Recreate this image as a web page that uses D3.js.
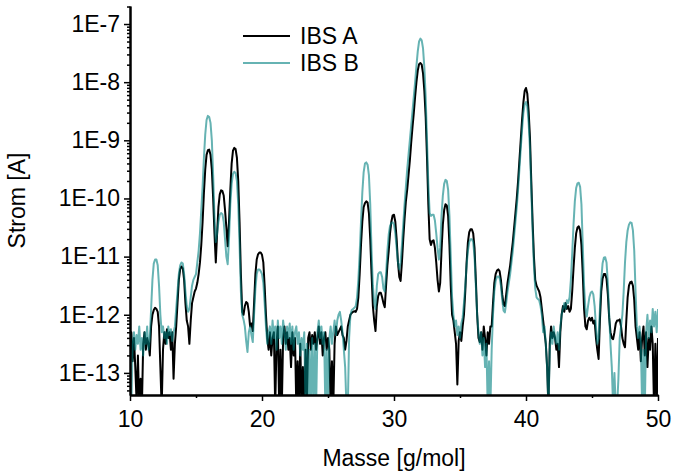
<!DOCTYPE html>
<html>
<head>
<meta charset="UTF-8" />
<style>
    body { margin: 0; background: #fff; }
    svg text { font-family: "Liberation Sans", Arial, sans-serif; fill: #000; }
    .axis path, .axis line { stroke: #000; }
    .axis path { stroke-width: 2px; }
    .axis line { stroke-width: 1.5px; }
    .axis text { font-size: 23px; }
    .title, .legend text { font-size: 23px; }
</style>
<script src="https://d3js.org/d3.v7.min.js"></script>
</head>
<body>
<svg width="673" height="473"></svg>
<script>
// masses: start + step, one value per step (g/mol)
var massStart = 10, massStep = 0.1;

// log10 of the current [A], rows of 1 g/mol
var ibsA = [
  -12.6,-12.3,-12.8,-12.4,-12.9,-13.5,-12.7,-13.6,-13.1,-13.6,   // 10
  -12.5,-12.3,-12.6,-12.4,-12.5,-12.7,-12.2,-12.0,-11.92,-11.88, // 11
  -11.9,-11.95,-12.2,-12.9,-13.6,-12.6,-12.3,-12.5,-12.25,-12.4, // 12
  -12.3,-12.6,-12.3,-13.1,-12.5,-12.2,-11.8,-11.4,-11.22,-11.17, // 13
  -11.2,-11.4,-11.8,-12.1,-12.2,-12.5,-12.1,-11.8,-11.7,-11.6,   // 14
  -11.55,-11.45,-11.3,-11.1,-10.8,-10.4,-9.9,-9.5,-9.25,-9.17,   // 15
  -9.16,-9.25,-9.5,-10.0,-10.6,-11.1,-10.6,-10.15,-9.93,-9.86,   // 16
  -9.87,-9.95,-10.2,-10.5,-10.82,-10.4,-9.85,-9.4,-9.18,-9.13,   // 17
  -9.15,-9.3,-9.7,-10.4,-11.3,-11.95,-12.0,-11.85,-11.78,-11.8,  // 18
  -11.95,-12.2,-12.15,-12.28,-11.8,-11.3,-11.05,-10.96,-10.93,-10.93, // 19
  -10.97,-11.1,-11.5,-12.0,-12.4,-12.6,-12.3,-12.7,-12.4,-12.3,  // 20
  -13.6,-12.5,-12.2,-13.6,-12.6,-13.6,-12.4,-12.2,-12.5,-12.3,   // 21
  -12.6,-12.4,-12.9,-12.3,-12.7,-12.4,-13.6,-12.8,-13.6,-12.5,   // 22
  -13.6,-12.9,-13.6,-12.6,-13.5,-12.4,-12.3,-12.6,-12.35,-12.5,  // 23
  -12.3,-12.6,-12.4,-12.2,-12.5,-12.3,-12.7,-12.4,-12.3,-12.6,   // 24
  -12.4,-12.6,-13.6,-12.8,-13.6,-12.5,-12.2,-12.35,-12.3,-12.25, // 25
  -12.2,-12.35,-12.4,-12.6,-12.45,-12.2,-12.1,-12.0,-11.97,-11.95, // 26
  -11.94,-11.95,-11.9,-11.7,-11.3,-10.8,-10.4,-10.15,-10.08,-10.05, // 27
  -10.07,-10.25,-10.7,-11.3,-11.85,-12.1,-12.28,-11.85,-11.68,-11.62, // 28
  -11.62,-11.7,-11.8,-11.87,-11.5,-11.15,-10.9,-10.6,-10.4,-10.29, // 29
  -10.28,-10.4,-10.7,-11.1,-11.35,-11.42,-11.1,-10.7,-10.35,-10.05, // 30
  -9.85,-9.6,-9.35,-9.05,-8.78,-8.53,-8.25,-8.0,-7.8,-7.69,      // 31
  -7.67,-7.7,-7.85,-8.15,-8.6,-9.3,-10.1,-10.7,-10.8,-10.73,     // 32
  -10.72,-10.85,-11.1,-11.4,-11.6,-11.45,-10.9,-10.45,-10.2,-10.1, // 33
  -10.12,-10.3,-10.8,-11.5,-12.0,-12.1,-12.3,-12.5,-13.2,-12.45, // 34
  -12.3,-12.45,-12.2,-12.0,-11.6,-11.1,-10.75,-10.58,-10.53,-10.53, // 35
  -10.6,-10.85,-11.4,-12.0,-12.4,-12.47,-12.3,-12.6,-12.2,-12.4, // 36
  -12.7,-12.3,-12.5,-12.2,-12.2,-11.8,-11.45,-11.3,-11.24,-11.22, // 37
  -11.25,-11.4,-11.65,-11.82,-11.85,-11.65,-11.45,-11.3,-11.15,-10.95, // 38
  -10.75,-10.5,-10.25,-10.0,-9.7,-9.35,-9.0,-8.65,-8.35,-8.15,   // 39
  -8.1,-8.2,-8.5,-8.95,-9.7,-10.4,-11.0,-11.4,-11.5,-11.55,      // 40
  -11.6,-11.7,-11.9,-12.1,-12.3,-12.5,-12.9,-13.6,-12.5,-12.2,   // 41
  -12.4,-12.3,-12.4,-12.6,-12.5,-12.9,-12.3,-12.0,-11.85,-11.95, // 42
  -11.8,-11.9,-11.85,-11.95,-11.9,-11.6,-11.2,-10.85,-10.6,-10.5, // 43
  -10.48,-10.55,-10.8,-11.3,-11.9,-12.2,-12.25,-12.1,-12.05,-12.1, // 44
  -12.05,-12.15,-12.1,-12.4,-12.6,-12.76,-12.1,-11.6,-11.38,-11.3, // 45
  -11.3,-11.38,-11.65,-12.05,-12.3,-12.4,-12.42,-12.3,-12.15,-12.1, // 46
  -12.1,-12.08,-12.2,-12.4,-12.5,-12.56,-12.1,-11.7,-11.5,-11.44, // 47
  -11.43,-11.5,-11.75,-12.2,-12.4,-12.6,-12.3,-12.8,-12.4,-12.2, // 48
  -12.7,-12.3,-12.9,-12.4,-12.6,-12.2,-12.5,-13.6,-12.5,-13.6,   // 49
  -12.4                                                          // 50
];

var ibsB = [
  -12.4,-13.6,-12.5,-12.3,-12.6,-12.35,-12.5,-12.2,-12.6,-12.4,  // 10
  -12.7,-12.3,-12.5,-12.2,-12.6,-12.4,-11.9,-11.4,-11.12,-11.05, // 11
  -11.05,-11.15,-11.5,-12.0,-12.3,-12.2,-12.4,-12.3,-12.5,-12.2, // 12
  -12.35,-12.25,-12.45,-12.3,-12.2,-11.9,-11.6,-11.3,-11.15,-11.1, // 13
  -11.12,-11.3,-11.6,-11.85,-11.95,-11.9,-11.7,-11.5,-11.4,-11.35, // 14
  -11.3,-11.1,-10.9,-10.6,-10.2,-9.8,-9.3,-8.9,-8.65,-8.58,      // 15
  -8.6,-8.7,-9.0,-9.6,-10.3,-10.75,-10.6,-10.4,-10.28,-10.25,    // 16
  -10.27,-10.4,-10.7,-11.0,-11.13,-10.7,-10.1,-9.75,-9.58,-9.54, // 17
  -9.56,-9.7,-10.1,-10.8,-11.6,-12.0,-12.08,-12.2,-12.45,-12.64, // 18
  -12.3,-12.2,-12.35,-12.47,-12.0,-11.55,-11.3,-11.22,-11.22,-11.25, // 19
  -11.3,-11.45,-11.8,-12.2,-12.5,-12.3,-12.2,-12.5,-12.1,-12.4,  // 20
  -12.2,-12.6,-12.1,-12.4,-12.2,-12.5,-12.1,-12.3,-12.6,-12.2,   // 21
  -12.4,-12.15,-12.5,-12.2,-12.6,-12.3,-12.2,-12.5,-12.3,-12.7,  // 22
  -12.4,-12.6,-12.3,-13.6,-12.5,-13.6,-12.6,-13.6,-12.4,-13.6,   // 23
  -12.5,-13.6,-12.3,-12.1,-12.4,-12.2,-12.5,-12.3,-13.6,-12.6,   // 24
  -13.6,-12.4,-12.2,-12.5,-12.3,-12.1,-12.35,-12.1,-12.0,-11.95, // 25
  -12.1,-12.3,-12.6,-12.9,-13.6,-13.6,-12.4,-12.0,-11.92,-11.9,  // 26
  -11.88,-11.85,-11.7,-11.4,-10.95,-10.4,-9.9,-9.55,-9.4,-9.38,  // 27
  -9.42,-9.6,-10.1,-10.9,-11.5,-11.8,-11.9,-11.5,-11.3,-11.27,   // 28
  -11.27,-11.35,-11.55,-11.6,-11.3,-10.9,-10.62,-10.47,-10.42,-10.41, // 29
  -10.45,-10.6,-10.85,-11.1,-11.22,-11.1,-10.8,-10.45,-10.1,-9.8, // 30
  -9.5,-9.25,-9.0,-8.75,-8.5,-8.25,-8.0,-7.72,-7.47,-7.3,        // 31
  -7.25,-7.28,-7.42,-7.75,-8.25,-9.0,-9.75,-10.25,-10.3,-10.28,  // 32
  -10.28,-10.38,-10.6,-10.85,-11.05,-10.85,-10.3,-9.95,-9.75,-9.68, // 33
  -9.7,-9.85,-10.3,-11.0,-11.7,-12.0,-12.2,-12.1,-12.35,-12.2,   // 34
  -12.4,-12.15,-12.05,-11.8,-11.5,-11.15,-10.9,-10.75,-10.7,-10.7, // 35
  -10.75,-11.0,-11.5,-12.0,-12.3,-12.5,-12.3,-12.7,-12.4,-12.9,  // 36
  -12.5,-13.6,-12.8,-13.6,-12.6,-12.0,-11.6,-11.42,-11.35,-11.34, // 37
  -11.37,-11.5,-11.75,-11.93,-11.96,-11.8,-11.6,-11.45,-11.3,-11.1, // 38
  -10.9,-10.65,-10.4,-10.15,-9.85,-9.5,-9.15,-8.82,-8.53,-8.38,  // 39
  -8.34,-8.42,-8.7,-9.15,-9.85,-10.55,-11.15,-11.55,-11.7,-11.73, // 40
  -11.75,-11.85,-12.0,-12.3,-12.2,-12.5,-12.9,-13.6,-12.6,-12.3, // 41
  -12.5,-12.2,-12.4,-12.5,-12.3,-12.6,-12.2,-12.0,-11.9,-11.8,   // 42
  -11.9,-11.75,-11.8,-11.7,-11.4,-10.95,-10.45,-10.05,-9.82,-9.74, // 43
  -9.73,-9.8,-10.1,-10.8,-11.5,-11.9,-12.03,-11.85,-11.7,-11.62, // 44
  -11.6,-11.65,-11.85,-12.2,-12.5,-12.4,-11.9,-11.4,-11.12,-11.02, // 45
  -11.01,-11.1,-11.45,-12.0,-12.5,-12.9,-13.6,-13.0,-13.6,-13.6, // 46
  -13.1,-12.4,-12.2,-12.0,-11.6,-11.1,-10.75,-10.55,-10.45,-10.41, // 47
  -10.42,-10.55,-10.9,-11.6,-12.2,-12.4,-12.2,-12.5,-13.6,-12.6, // 48
  -13.6,-12.3,-12.0,-12.4,-12.1,-12.3,-11.9,-12.2,-11.95,-12.3,  // 49
  -11.9                                                          // 50
];

var seriesNames = ["IBS A", "IBS B"];
var seriesColors = ["#000000", "#008080"];
var seriesOpacity = [1, 0.6];
var xTicks = [10, 20, 30, 40, 50];
var xMinorTicks = [15, 25, 35, 45];
var yTicks = [1e-13, 1e-12, 1e-11, 1e-10, 1e-9, 1e-8, 1e-7];

var svg = d3.select("svg"),
    plotLeft = 130, plotRight = 658, plotTop = 6, plotBottom = 395;

var x = d3.scaleLinear().domain([10, 50]).range([plotLeft, plotRight]);
var y = d3.scaleLog().domain([Math.pow(10, -13.38), Math.pow(10, -6.69)]).range([plotBottom, plotTop]);

svg.append("clipPath").attr("id", "plot")
   .append("rect")
   .attr("x", plotLeft).attr("y", plotTop)
   .attr("width", plotRight - plotLeft).attr("height", plotBottom - plotTop);

var line = d3.line()
    .x(function(d, i) { return x(massStart + i * massStep); })
    .y(function(d) { return y(Math.pow(10, d)); });

[ibsA, ibsB].forEach(function(s, k) {
    svg.append("path")
       .datum(s)
       .attr("clip-path", "url(#plot)")
       .attr("fill", "none")
       .attr("stroke", seriesColors[k])
       .attr("stroke-opacity", seriesOpacity[k])
       .attr("stroke-width", 2)
       .attr("stroke-linejoin", "round")
       .attr("d", line);
});

// axes
svg.append("g").attr("class", "axis")
   .attr("transform", "translate(0," + plotBottom + ")")
   .call(d3.axisBottom(x).tickValues(xMinorTicks).tickSize(3).tickSizeOuter(0).tickFormat(""));
svg.append("g").attr("class", "axis")
   .attr("transform", "translate(0," + plotBottom + ")")
   .call(d3.axisBottom(x).tickValues(xTicks).tickSize(6).tickSizeOuter(0).tickPadding(10).tickFormat(d3.format("d")));

var yMinor = y.ticks().filter(function(t) { return Math.abs(Math.log10(t) - Math.round(Math.log10(t))) > 1e-6; });
svg.append("g").attr("class", "axis")
   .attr("transform", "translate(" + plotLeft + ",0)")
   .call(d3.axisLeft(y).tickValues(yMinor).tickSize(3).tickSizeOuter(0).tickFormat(""));
svg.append("g").attr("class", "axis")
   .attr("transform", "translate(" + plotLeft + ",0)")
   .call(d3.axisLeft(y).tickValues(yTicks).tickSize(6).tickSizeOuter(0).tickPadding(4)
        .tickFormat(function(d) { return "1E" + Math.round(Math.log10(d)); }));

svg.append("text").attr("class", "title")
   .attr("x", (plotLeft + plotRight) / 2).attr("y", 466)
   .attr("text-anchor", "middle")
   .text("Masse [g/mol]");

svg.append("text").attr("class", "title")
   .attr("transform", "translate(25," + ((plotTop + plotBottom) / 2) + ") rotate(-90)")
   .attr("text-anchor", "middle")
   .text("Strom [A]");

// legend
var legend = svg.append("g").attr("class", "legend");
seriesNames.forEach(function(name, k) {
    var ly = 36 + k * 27;
    legend.append("line")
          .attr("x1", 243).attr("x2", 290).attr("y1", ly).attr("y2", ly)
          .attr("stroke", seriesColors[k])
          .attr("stroke-opacity", seriesOpacity[k])
          .attr("stroke-width", 2);
    legend.append("text")
          .attr("x", 300).attr("y", ly + 8)
          .text(name);
});
</script>
</body>
</html>
